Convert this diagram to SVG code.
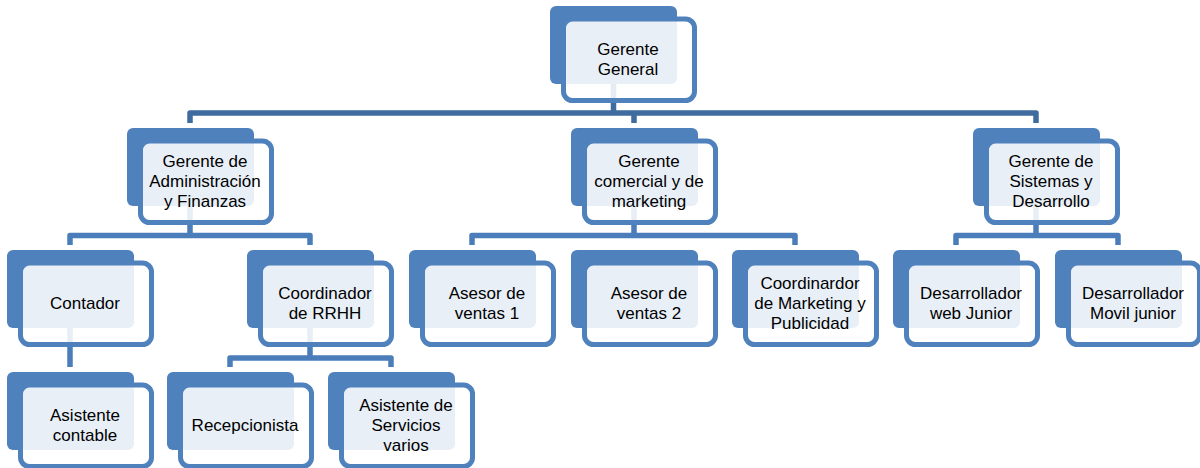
<svg xmlns="http://www.w3.org/2000/svg" width="1200" height="468" viewBox="0 0 1200 468">
<style>
.back{fill:#4F81BD}
.front{fill:#ffffff;fill-opacity:0.87;stroke:#4F81BD;stroke-width:5}
.c1{fill:none;stroke:#3F6B9F;stroke-width:5.5;stroke-linejoin:round}
.c2{fill:none;stroke:#4A7DB9;stroke-width:5.5;stroke-linejoin:round}
.t{font-family:"Liberation Sans",Arial,sans-serif;font-size:17px;fill:#000;text-anchor:middle}
</style>
<defs>
<g id="box">
<rect class="back" x="0" y="0" width="127" height="78" rx="6"/>
<rect class="front" x="13.5" y="13" width="131" height="81.5" rx="9"/>
</g>
</defs>
<rect width="1200" height="468" fill="#ffffff"/>
<g id="connectors">
<path class="c1" d="M613.5,80 V113 M190,123 V113 H1036 V123 M634,113 V123"/>
<path class="c2" d="M190,200 V235.5 M70,245 V235.5 H310 V245"/>
<path class="c2" d="M634,200 V235.5 M472,245 V235.5 H795 V245"/>
<path class="c2" d="M1036,200 V235.5 M956,245 V235.5 H1118 V245"/>
<path class="c2" d="M70,322 V367"/>
<path class="c2" d="M310,322 V358 M230,367 V358 H391 V367"/>
</g>
<g id="gerente-general">
<use href="#box" x="550" y="6"/>
<text class="t"><tspan x="628" y="54.5">Gerente</tspan><tspan x="628" y="74.5">General</tspan></text>
</g>
<g id="gerente-admin">
<use href="#box" x="127" y="128"/>
<text class="t"><tspan x="205" y="166.5">Gerente de</tspan><tspan x="205" y="186.5">Administración</tspan><tspan x="205" y="206.5">y Finanzas</tspan></text>
</g>
<g id="gerente-comercial">
<use href="#box" x="571" y="128"/>
<text class="t"><tspan x="649" y="166.5">Gerente</tspan><tspan x="649" y="186.5">comercial y de</tspan><tspan x="649" y="206.5">marketing</tspan></text>
</g>
<g id="gerente-sistemas">
<use href="#box" x="973" y="128"/>
<text class="t"><tspan x="1051" y="166.5">Gerente de</tspan><tspan x="1051" y="186.5">Sistemas y</tspan><tspan x="1051" y="206.5">Desarrollo</tspan></text>
</g>
<g id="contador">
<use href="#box" x="7" y="250"/>
<text class="t"><tspan x="85" y="308.5">Contador</tspan></text>
</g>
<g id="coordinador-rrhh">
<use href="#box" x="247" y="250"/>
<text class="t"><tspan x="325" y="298.5">Coordinador</tspan><tspan x="325" y="318.5">de RRHH</tspan></text>
</g>
<g id="asesor-1">
<use href="#box" x="409" y="250"/>
<text class="t"><tspan x="487" y="298.5">Asesor de</tspan><tspan x="487" y="318.5">ventas 1</tspan></text>
</g>
<g id="asesor-2">
<use href="#box" x="571" y="250"/>
<text class="t"><tspan x="649" y="298.5">Asesor de</tspan><tspan x="649" y="318.5">ventas 2</tspan></text>
</g>
<g id="coordinador-marketing">
<use href="#box" x="732" y="250"/>
<text class="t"><tspan x="810" y="288.5">Coordinardor</tspan><tspan x="810" y="308.5">de Marketing y</tspan><tspan x="810" y="328.5">Publicidad</tspan></text>
</g>
<g id="desarrollador-web">
<use href="#box" x="893" y="250"/>
<text class="t"><tspan x="971" y="298.5">Desarrollador</tspan><tspan x="971" y="318.5">web Junior</tspan></text>
</g>
<g id="desarrollador-movil">
<use href="#box" x="1055" y="250"/>
<text class="t"><tspan x="1133" y="298.5">Desarrollador</tspan><tspan x="1133" y="318.5">Movil junior</tspan></text>
</g>
<g id="asistente-contable">
<use href="#box" x="7" y="372"/>
<text class="t"><tspan x="85" y="420.5">Asistente</tspan><tspan x="85" y="440.5">contable</tspan></text>
</g>
<g id="recepcionista">
<use href="#box" x="167" y="372"/>
<text class="t"><tspan x="245" y="430.5">Recepcionista</tspan></text>
</g>
<g id="asistente-servicios">
<use href="#box" x="328" y="372"/>
<text class="t"><tspan x="406" y="410.5">Asistente de</tspan><tspan x="406" y="430.5">Servicios</tspan><tspan x="406" y="450.5">varios</tspan></text>
</g>
</svg>
